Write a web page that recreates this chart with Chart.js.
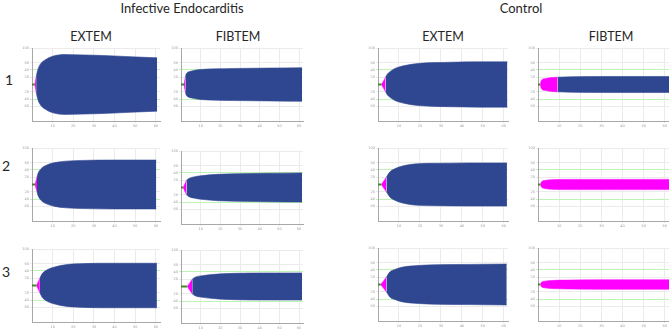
<!DOCTYPE html>
<html><head><meta charset="utf-8">
<script src="https://cdn.jsdelivr.net/npm/chart.js@4.4.1/dist/chart.umd.min.js"></script>
<style>
html,body{margin:0;padding:0;background:#fff;}
body{width:669px;height:329px;position:relative;overflow:hidden;font-family:Lato,"Open Sans",sans-serif;color:#262626;}
.t{position:absolute;white-space:nowrap;transform:translate(-50%,-50%);line-height:1;}
canvas{position:absolute;}
</style></head><body>
<div class="t" style="left:182px;top:8px;font-size:13px">Infective Endocarditis</div>
<div class="t" style="left:521px;top:8px;font-size:13px">Control</div>
<div class="t" style="left:91px;top:37px;font-size:12.5px">EXTEM</div>
<div class="t" style="left:238px;top:37px;font-size:12.5px">FIBTEM</div>
<div class="t" style="left:443px;top:37px;font-size:12.5px">EXTEM</div>
<div class="t" style="left:611px;top:37px;font-size:12.5px">FIBTEM</div>
<div class="t" style="left:9px;top:80px;font-size:14px">1</div>
<div class="t" style="left:6px;top:166px;font-size:14px">2</div>
<div class="t" style="left:6px;top:272px;font-size:14px">3</div>
<script>
// ---- data (time in minutes, amplitude in mm; first point = clotting time) ----
const xTickValues = [10, 20, 30, 40, 50, 60];
const xTickLabels = ['10', '20', '30', '40', '50', '60'];
const yTickValues = [-60, -40, -20, 20, 40, 60, 100];
const yTickLabels = ['60', '40', '20', '20', '40', '60', '100'];

const ieExtem1Time = [1.35, 2.0, 2.6, 3.3, 4.5, 6.5, 9.7, 16, 25, 37, 48, 60.6];
const ieExtem1Amp  = [0, 20, 36, 48, 59, 68, 77, 82, 81, 79, 76, 73];
const ieFibtem1Time = [1.5, 2.2, 2.5, 2.9, 3.6, 5.4, 9.7, 18, 27, 45, 61.5];
const ieFibtem1Amp  = [0, 20, 27, 31, 34, 37, 41, 43, 44, 45, 46];
const ctExtem1Time = [1.7, 3.6, 4.5, 5.7, 8.1, 12.8, 19, 27, 35, 48, 61.7];
const ctExtem1Amp  = [0, 20, 29, 35, 44, 52, 57.5, 60, 61, 62, 62];
const ctFibtem1Time = [1.0, 1.7, 3.3, 6.5, 9.3, 15, 30, 62];
const ctFibtem1Amp  = [0, 12, 16, 19, 20, 21, 22, 22];

const ieExtem2Time = [1.45, 2.4, 2.9, 4.5, 7, 11, 16.6, 24.6, 40, 60.2];
const ieExtem2Amp  = [0, 20, 30, 44, 53, 60, 64, 66, 67, 67];
const ieFibtem2Time = [1.1, 2.8, 4.0, 6.5, 9.9, 18.5, 27, 44, 61.5];
const ieFibtem2Amp  = [0, 20, 25, 29, 32, 36, 37.5, 39, 40];
const ctExtem2Time = [1.6, 4.0, 5.6, 8.0, 11.2, 19.1, 27, 43, 61.5];
const ctExtem2Amp  = [0, 20, 34, 43, 50, 57, 58, 59, 59];
const ctFibtem2Time = [1.1, 1.6, 3.2, 6.3, 14.2, 30, 62];
const ctFibtem2Amp  = [0, 7, 11, 13, 14, 14, 14];

const ieExtem3Time = [2.2, 3.8, 4.9, 7.3, 10.5, 17, 25, 33, 60.5];
const ieExtem3Amp  = [0, 20, 32, 43, 50, 57.5, 60, 61, 61];
const ieFibtem3Time = [3.2, 5.7, 7.4, 9.9, 18.5, 27, 44, 61.5];
const ieFibtem3Amp  = [0, 20, 26, 29, 34, 36, 37, 37];
const ctExtem3Time = [1.3, 4.0, 5.6, 8.0, 11.2, 19.1, 27, 43, 61.4];
const ctExtem3Amp  = [0, 20, 34, 41, 47, 52, 54, 55, 56];
const ctFibtem3Time = [1.1, 1.6, 3.2, 6.3, 14.2, 30, 62];
const ctFibtem3Amp  = [0, 6, 9, 11, 12, 13, 13];

const amplitudeThreshold = 20; // pink until the trace reaches 20 mm

// ---- layout (plot-area boxes) ----
const panels = [
  {time: ieExtem1Time,  amp: ieExtem1Amp,  left: 31.5, cy: 84.3, w: 128},
  {time: ieFibtem1Time, amp: ieFibtem1Amp, left: 180.5, cy: 84.3, w: 121.5},
  {time: ctExtem1Time,  amp: ctExtem1Amp,  left: 378, cy: 84.3, w: 129.6},
  {time: ctFibtem1Time, amp: ctFibtem1Amp, left: 538, cy: 84.3, w: 131},
  {time: ieExtem2Time,  amp: ieExtem2Amp,  left: 32, cy: 184.3, w: 128},
  {time: ieFibtem2Time, amp: ieFibtem2Amp, left: 180.5, cy: 187, w: 121.5},
  {time: ctExtem2Time,  amp: ctExtem2Amp,  left: 378, cy: 184, w: 129.6},
  {time: ctFibtem2Time, amp: ctFibtem2Amp, left: 538, cy: 184.3, w: 131},
  {time: ieExtem3Time,  amp: ieExtem3Amp,  left: 31.7, cy: 285, w: 128},
  {time: ieFibtem3Time, amp: ieFibtem3Amp, left: 180.5, cy: 286.7, w: 121.5},
  {time: ctExtem3Time,  amp: ctExtem3Amp,  left: 378, cy: 284, w: 129.6},
  {time: ctFibtem3Time, amp: ctFibtem3Amp, left: 538, cy: 284, w: 131}
];

const BLUE = '#2f4690', PINK = '#ff00ff', GREENLINE = '#3f8a1e';
const GRID = '#ebebeb', GREENGRID = '#bdf3b5', AXIS = '#a8a8a8', LABEL = '#a0a0a0';
const PLOT_H = 73, YW = 11, XH = 9, PT = 4, PR = 4;

panels.forEach(p => {
  const n = p.time.length;
  let split = p.amp.findIndex(a => a >= amplitudeThreshold);
  const hasBlue = split >= 0;
  if (!hasBlue) split = n - 1;
  const pinkUp = [], pinkLo = [], blueUp = [], blueLo = [];
  for (let i = 0; i < n; i++) {
    if (i <= split) { pinkUp.push({x: p.time[i], y: p.amp[i]}); pinkLo.push({x: p.time[i], y: -p.amp[i]}); }
    if (hasBlue && i >= split) { blueUp.push({x: p.time[i], y: p.amp[i]}); blueLo.push({x: p.time[i], y: -p.amp[i]}); }
  }
  const edge = (data, color) => ({data, fill: false, borderColor: color, borderWidth: 0.6,
    pointRadius: 0, cubicInterpolationMode: 'monotone'});
  const lower = (data, color) => ({data, fill: '-1', backgroundColor: color, borderColor: color, borderWidth: 0.6,
    pointRadius: 0, cubicInterpolationMode: 'monotone'});
  const cv = document.createElement('canvas');
  const cw = Math.round(YW + p.w + PR), ch = PT + PLOT_H + XH;
  cv.width = cw; cv.height = ch;
  cv.style.width = cw + 'px'; cv.style.height = ch + 'px';
  cv.style.left = (p.left - YW) + 'px';
  cv.style.top = (p.cy - PLOT_H / 2 - PT) + 'px';
  document.body.appendChild(cv);
  new Chart(cv, {
    type: 'line',
    data: {datasets: [
      {data: [{x: 0, y: 0}, {x: p.time[0], y: 0}], borderColor: GREENLINE, borderWidth: 2, pointRadius: 0, fill: false},
      edge(pinkUp, PINK), lower(pinkLo, PINK), edge(blueUp, BLUE), lower(blueLo, BLUE)
    ]},
    options: {
      responsive: false, animation: false, devicePixelRatio: 1,
      layout: {padding: {top: PT, right: PR, left: 0, bottom: 0}},
      plugins: {legend: {display: false}, tooltip: {enabled: false}},
      scales: {
        x: {type: 'linear', min: 0, max: 62,
            afterFit: s => { s.height = XH; },
            afterBuildTicks: s => { s.ticks = xTickValues.map(v => ({value: v})); },
            ticks: {autoSkip: false, maxRotation: 0, padding: 1, color: LABEL, font: {size: 3.5, family: 'DejaVu Sans'},
                    callback: (v) => xTickLabels[xTickValues.indexOf(v)]},
            grid: {color: GRID, lineWidth: 1, tickLength: 2, drawTicks: true},
            border: {color: AXIS, width: 1}},
        y: {type: 'linear', min: -100, max: 100,
            afterFit: s => { s.width = YW; },
            afterBuildTicks: s => { s.ticks = yTickValues.map(v => ({value: v})); },
            ticks: {autoSkip: false, padding: 1, color: LABEL, font: {size: 3.5, family: 'DejaVu Sans'},
                    callback: (v) => yTickLabels[yTickValues.indexOf(v)]},
            grid: {color: c => (c.tick && Math.abs(c.tick.value) === 40) ? GREENGRID : GRID, lineWidth: 1, tickLength: 2},
            border: {color: AXIS, width: 1}}
      }
    }
  });
});
</script>
</body></html>
